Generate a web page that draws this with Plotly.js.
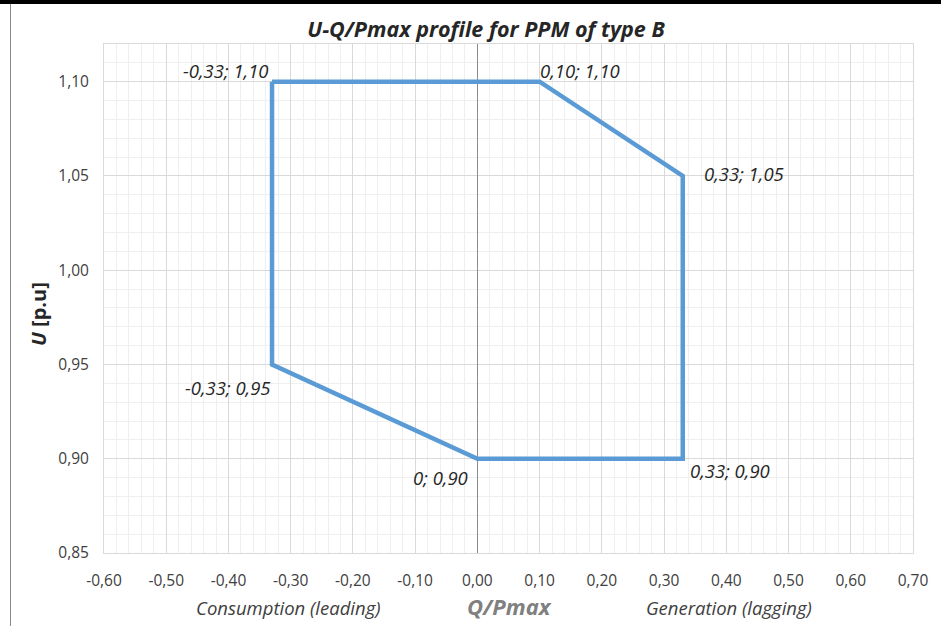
<!DOCTYPE html>
<html>
<head>
<meta charset="utf-8">
<script src="https://cdn.plot.ly/plotly-3.0.1.min.js"></script>
<style>
html,body{margin:0;padding:0;background:#fff;}
#wrap{position:relative;width:941px;height:626px;overflow:hidden;}
#chart{position:absolute;left:0;top:0;width:941px;height:626px;}
#topbar{position:absolute;left:0;top:0;width:941px;height:4px;background:#000;z-index:5;}
#leftbar{position:absolute;left:10px;top:4px;width:1px;height:622px;background:#8c8c8c;z-index:5;}
</style>
</head>
<body>
<div id="wrap"><div id="chart"></div><div id="topbar"></div><div id="leftbar"></div></div>
<script>
// Q/Pmax profile points (closed polygon)
const qValues = [-0.33, 0.10, 0.33, 0.33, 0.00, -0.33, -0.33];
const uValues = [1.10, 1.10, 1.05, 0.90, 0.90, 0.95, 1.10];
// Data labels
const labelQ = [-0.33, 0.10, 0.33, 0.33, 0.00, -0.33];
const labelU = [1.10, 1.10, 1.05, 0.90, 0.90, 0.95];
const labelText = ["-0,33; 1,10", "0,10; 1,10", "0,33; 1,05", "0,33; 0,90", "0; 0,90", "-0,33; 0,95"];
const labelShiftX = [-46, 40, 61, 47, -37, -44];
const labelShiftY = [11, 11, 2, -12, -19, -23];
// Axis ticks
const xTickVals = [-0.6, -0.5, -0.4, -0.3, -0.2, -0.1, 0, 0.1, 0.2, 0.3, 0.4, 0.5, 0.6, 0.7];
const xTickText = ["-0,60", "-0,50", "-0,40", "-0,30", "-0,20", "-0,10", "0,00", "0,10", "0,20", "0,30", "0,40", "0,50", "0,60", "0,70"];
const yTickVals = [0.85, 0.90, 0.95, 1.00, 1.05, 1.10];
const yTickText = ["0,85", "0,90", "0,95", "1,00", "1,05", "1,10"];
const titleText = "U-Q/Pmax profile for PPM of type B";
const xTitle = "Q/Pmax";
const yTitle = "<b><i>U</i> [p.u]</b>";
const leftNote = "Consumption (leading)";
const rightNote = "Generation (lagging)";

const FONT = "'Open Sans', sans-serif";

const annotations = labelText.map((t, i) => ({
  x: labelQ[i], y: labelU[i], xref: 'x', yref: 'y', text: '<i>' + t + '</i>',
  showarrow: false, xshift: labelShiftX[i], yshift: labelShiftY[i],
  font: {family: FONT, size: 18.5, color: '#262626'}
}));
annotations.push(
  {x: 288, y: 607, text: '<i>' + leftNote + '</i>', showarrow: false,
   font: {family: FONT, size: 18.5, color: '#404040'}},
  {x: 729, y: 607, text: '<i>' + rightNote + '</i>', showarrow: false,
   font: {family: FONT, size: 18.5, color: '#404040'}},
  {x: 510, y: 606, text: '<b><i>' + xTitle + '</i></b>', showarrow: false,
   font: {family: FONT, size: 22, color: '#808080'}},
  {x: 38, y: 314, text: yTitle, showarrow: false, textangle: -90,
   font: {family: FONT, size: 20, color: '#262626'}}
);
// convert the bottom notes and axis title from pixel spec to paper coords
const L = 104, R = 28, T = 44, B = 73, W = 941, H = 626;
const pw = W - L - R, ph = H - T - B;
for (let k = annotations.length - 4; k < annotations.length; k++) {
  const a = annotations[k];
  a.x = (a.x - L) / pw; a.y = (H - B - a.y) / ph;
  a.xref = 'paper'; a.yref = 'paper'; a.xanchor = 'center'; a.yanchor = 'middle';
}

const trace = {
  x: qValues, y: uValues, type: 'scatter', mode: 'lines',
  line: {color: '#5b9bd5', width: 4.5}, hoverinfo: 'none', showlegend: false
};

const layout = {
  width: W, height: H,
  margin: {l: L, r: R, t: T, b: B, pad: 0},
  paper_bgcolor: '#fff', plot_bgcolor: '#fff',
  title: {text: '<b><i>' + titleText + '</i></b>', x: 0.5165, xanchor: 'center', y: 0.953, yanchor: 'middle',
          font: {family: FONT, size: 21.5, color: '#262626'}},
  xaxis: {
    range: [-0.6, 0.7], tickmode: 'array', tickvals: xTickVals, ticktext: xTickText,
    showgrid: true, gridcolor: '#d9d9d9', gridwidth: 1,
    minor: {tickmode: 'linear', tick0: 0, dtick: 0.02, showgrid: true, gridcolor: '#efefef', gridwidth: 1},
    zeroline: true, zerolinecolor: '#8c8c8c', zerolinewidth: 1,
    showline: true, linecolor: '#d9d9d9', linewidth: 1, mirror: true,
    ticks: '', ticklabelstandoff: 13,
    tickfont: {family: FONT, size: 15.5, color: '#404040'}
  },
  yaxis: {
    range: [0.85, 1.12], tickmode: 'array', tickvals: yTickVals, ticktext: yTickText,
    showgrid: true, gridcolor: '#d9d9d9', gridwidth: 1,
    minor: {tickmode: 'linear', tick0: 0.85, dtick: 0.01, showgrid: true, gridcolor: '#efefef', gridwidth: 1},
    zeroline: false,
    showline: true, linecolor: '#d9d9d9', linewidth: 1, mirror: true,
    ticks: '', ticklabelstandoff: 11,
    tickfont: {family: FONT, size: 15.5, color: '#404040'}
  },
  annotations: annotations
};

Plotly.newPlot('chart', [trace], layout, {displayModeBar: false, staticPlot: true});
</script>
</body>
</html>
